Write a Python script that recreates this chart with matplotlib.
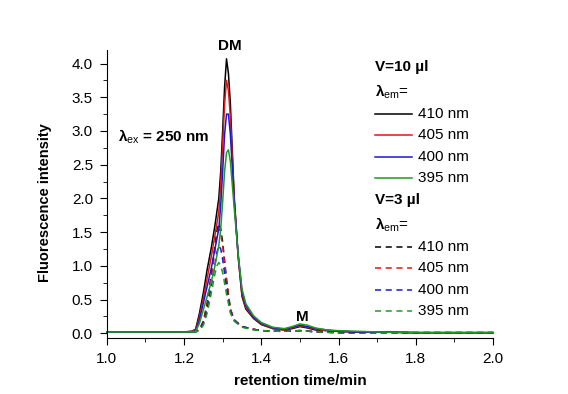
import matplotlib
matplotlib.use('Agg')
import matplotlib.pyplot as plt
from matplotlib.lines import Line2D
from matplotlib.ticker import MultipleLocator

plt.rcParams['font.family'] = ['Liberation Sans', 'DejaVu Sans']
plt.rcParams['mathtext.fontset'] = 'custom'
plt.rcParams['mathtext.rm'] = 'Liberation Sans'
plt.rcParams['mathtext.bf'] = 'Liberation Sans:bold'
plt.rcParams['mathtext.it'] = 'Liberation Sans:italic'

# V = 10 ul, solid curves
t_solid = [1.00, 1.10, 1.20, 1.22, 1.23, 1.24, 1.25, 1.26, 1.27, 1.28,
           1.29, 1.295, 1.30, 1.305, 1.31, 1.315, 1.32, 1.325, 1.33, 1.34,
           1.35, 1.36, 1.38, 1.40, 1.43, 1.46, 1.48, 1.50, 1.52, 1.54,
           1.57, 1.60, 1.65, 1.70, 1.80, 1.90, 2.00]
solid_410 = [0.02, 0.02, 0.02, 0.03, 0.06, 0.30, 0.60, 0.95, 1.25, 1.60,
             2.00, 2.40, 3.00, 3.65, 4.07, 3.85, 3.40, 2.70, 2.00, 1.15,
             0.55, 0.36, 0.22, 0.13, 0.07, 0.05, 0.07, 0.10, 0.08, 0.05,
             0.04, 0.03, 0.02, 0.02, 0.01, 0.01, 0.01]
solid_405 = [0.02, 0.02, 0.02, 0.03, 0.05, 0.25, 0.52, 0.82, 1.12, 1.45,
             1.80, 2.20, 2.80, 3.40, 3.75, 3.60, 3.20, 2.60, 2.00, 1.15,
             0.58, 0.38, 0.23, 0.14, 0.07, 0.05, 0.08, 0.11, 0.09, 0.06,
             0.04, 0.03, 0.02, 0.02, 0.01, 0.01, 0.01]
solid_400 = [0.02, 0.02, 0.02, 0.02, 0.04, 0.20, 0.45, 0.70, 0.95, 1.25,
             1.55, 1.90, 2.40, 2.95, 3.25, 3.25, 2.95, 2.45, 1.95, 1.18,
             0.62, 0.41, 0.24, 0.15, 0.08, 0.06, 0.09, 0.12, 0.10, 0.07,
             0.05, 0.03, 0.02, 0.02, 0.01, 0.01, 0.01]
solid_395 = [0.02, 0.02, 0.02, 0.02, 0.03, 0.15, 0.35, 0.55, 0.75, 1.00,
             1.30, 1.55, 1.95, 2.40, 2.68, 2.72, 2.55, 2.20, 1.85, 1.18,
             0.66, 0.44, 0.26, 0.16, 0.09, 0.07, 0.10, 0.14, 0.12, 0.08,
             0.05, 0.04, 0.03, 0.02, 0.01, 0.01, 0.01]

# V = 3 ul, dashed curves
t_dash = [1.00, 1.10, 1.20, 1.23, 1.24, 1.25, 1.26, 1.27, 1.28, 1.285,
          1.29, 1.295, 1.30, 1.31, 1.32, 1.33, 1.35, 1.38, 1.40, 1.45,
          1.50, 1.55, 1.60, 1.70, 1.80, 1.90, 2.00]
dash_410 = [0.02, 0.02, 0.02, 0.03, 0.06, 0.18, 0.45, 0.85, 1.30, 1.52,
            1.63, 1.55, 1.35, 0.80, 0.36, 0.20, 0.10, 0.06, 0.04, 0.03,
            0.04, 0.02, 0.01, 0.01, 0.01, 0.01, 0.01]
dash_405 = [0.02, 0.02, 0.02, 0.03, 0.05, 0.16, 0.42, 0.80, 1.22, 1.45,
            1.55, 1.48, 1.30, 0.78, 0.36, 0.20, 0.10, 0.06, 0.04, 0.03,
            0.04, 0.02, 0.01, 0.01, 0.01, 0.01, 0.01]
dash_400 = [0.02, 0.02, 0.02, 0.02, 0.05, 0.14, 0.36, 0.68, 1.02, 1.20,
            1.30, 1.25, 1.10, 0.68, 0.33, 0.19, 0.10, 0.06, 0.04, 0.03,
            0.04, 0.02, 0.01, 0.01, 0.01, 0.01, 0.01]
dash_395 = [0.02, 0.02, 0.02, 0.02, 0.04, 0.12, 0.30, 0.58, 0.88, 1.00,
            1.05, 1.00, 0.90, 0.58, 0.30, 0.18, 0.09, 0.05, 0.04, 0.03,
            0.04, 0.02, 0.01, 0.01, 0.01, 0.01, 0.01]

labels = ['410 nm', '405 nm', '400 nm', '395 nm']
colors = ['black', '#e01818', '#1818d8', '#209a20']
solids = [solid_410, solid_405, solid_400, solid_395]
dashes = [dash_410, dash_405, dash_400, dash_395]

fs = 11
fig = plt.figure(figsize=(5.68, 3.94), dpi=100)
ax = fig.add_axes([0.188, 0.142, 0.68, 0.731])

for y, c in zip(dashes, colors):
    ax.plot(t_dash, y, color=c, lw=1.1, dashes=(4, 3), clip_on=False)
for y, c in zip(solids, colors):
    ax.plot(t_solid, y, color=c, lw=1.1, clip_on=False)

ax.set_xlim(1.0, 2.0)
ax.set_ylim(-0.07, 4.2)
ax.xaxis.set_major_locator(MultipleLocator(0.2))
ax.xaxis.set_minor_locator(MultipleLocator(0.1))
ax.yaxis.set_major_locator(MultipleLocator(0.5))
ax.yaxis.set_minor_locator(MultipleLocator(0.25))
ax.spines['top'].set_visible(False)
ax.spines['right'].set_visible(False)
ax.tick_params(which='major', direction='out', length=5, labelsize=fs)
ax.tick_params(axis='y', which='major', pad=5)
ax.tick_params(axis='x', which='major', pad=5)
ax.tick_params(which='minor', direction='out', length=3)
ax.set_xlabel('retention time/min', fontsize=fs, fontweight='bold')
ax.set_ylabel('Fluorescence intensity', fontsize=10.5, fontweight='bold')
ax.xaxis.set_label_coords(0.5, -0.125)
ax.yaxis.set_label_coords(-0.142, 0.47)

ax.text(1.318, 4.16, 'DM', fontsize=fs, fontweight='bold', ha='center', va='bottom')
ax.text(1.505, 0.14, 'M', fontsize=fs, fontweight='bold', ha='center', va='bottom')
ax.text(1.03, 2.92, r'$\mathbf{\lambda}_{\rm ex}$' + ' = 250 nm', fontsize=fs,
        fontweight='bold', ha='left', va='center')

# legend drawn by hand, two blocks
W, H = 568.0, 394.0
x0, x1, xt = 375, 412, 418
blocks = [('V=10 µl', 67, '-'), ('V=3 µl', 200, '--')]
for title, ytop, ls in blocks:
    fig.text(x0 / W, 1 - ytop / H, title, fontsize=fs, fontweight='bold', va='center')
    fig.text(x0 / W, 1 - (ytop + 25) / H, r'$\mathbf{\lambda}_{\rm em}$=', fontsize=fs, va='center')
    for i, (lab, c) in enumerate(zip(labels, colors)):
        yy = 1 - (ytop + 47 + 21.3 * i) / H
        ln = Line2D([x0 / W, x1 / W], [yy, yy], color=c, lw=1.1, transform=fig.transFigure)
        if ls == '--':
            ln.set_dashes((4, 3))
        fig.add_artist(ln)
        fig.text(xt / W, yy, lab, fontsize=fs, va='center')

fig.savefig('out.png', dpi=100)
